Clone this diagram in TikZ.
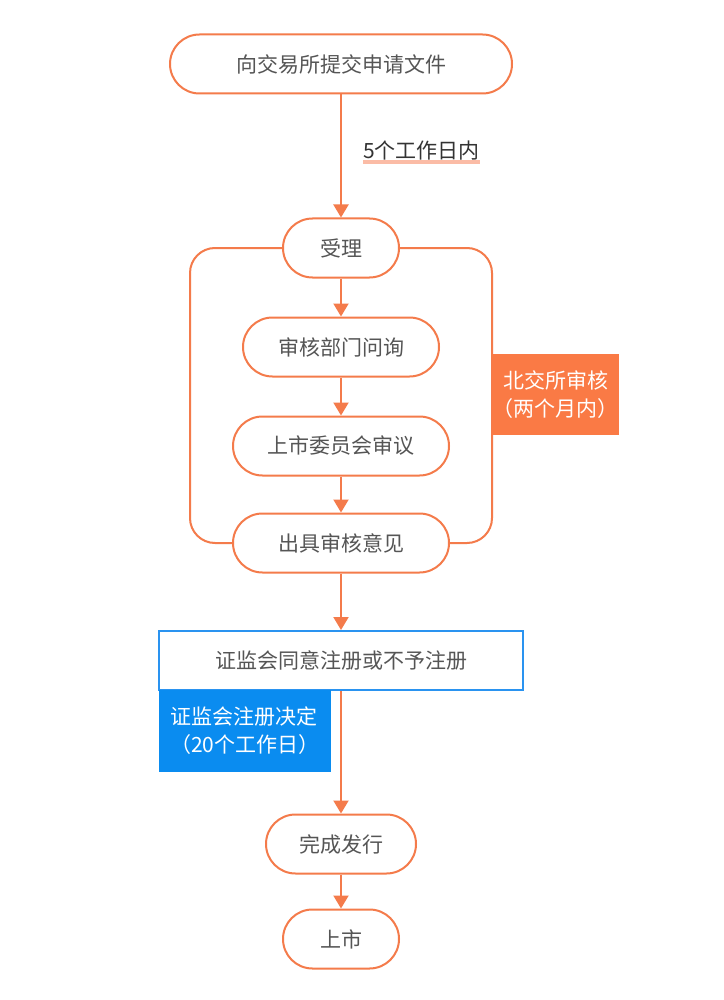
\documentclass[tikz,border=0pt]{standalone}
\usepackage{fontspec}
\setmainfont{Noto Sans CJK SC}
\usetikzlibrary{arrows.meta,positioning}
\definecolor{org}{HTML}{F47B4B}
\definecolor{orgfill}{HTML}{FA7A45}
\definecolor{uline}{HTML}{FBBCA6}
\definecolor{blu}{HTML}{2A93F0}
\definecolor{blufill}{HTML}{0A8CF0}
\definecolor{txt}{HTML}{555555}
\begin{document}
\begin{tikzpicture}[x=1pt,y=-1pt,
  pill/.style={draw=org,line width=2pt,rounded corners=29.5pt,minimum height=59pt,inner sep=0pt,text=txt,font=\fontsize{21}{25}\selectfont,fill=white},
  arr/.style={draw=org,line width=2pt,-{Triangle[width=15pt,length=13pt]}},
  brk/.style={draw=org,line width=2pt,rounded corners=25pt},
  lbl/.style={font=\fontsize{21}{28}\selectfont,text=white,inner sep=0pt}]
\useasboundingbox (0,0) rectangle (723,1000);
\fill[white] (0,0) rectangle (723,1000);
\node[pill,minimum width=342pt] (a) at (341,64) {向交易所提交申请文件};
\node[pill,minimum width=116pt] (b) at (341,248) {受理};
\node[pill,minimum width=196pt] (c) at (341,347) {审核部门问询};
\node[pill,minimum width=216pt] (d) at (341,446) {上市委员会审议};
\node[pill,minimum width=216pt] (e) at (341,543) {出具审核意见};
\node[draw=blu,line width=2pt,minimum width=364pt,minimum height=59pt,inner sep=0pt,text=txt,font=\fontsize{21}{25}\selectfont] (f) at (341,660.5) {证监会同意注册或不予注册};
\node[pill,minimum width=150pt] (g) at (341,844) {完成发行};
\node[pill,minimum width=116pt] (h) at (341,939) {上市};
% label
\node[anchor=west,inner sep=0pt,text=black!80,font=\fontsize{21}{25}\selectfont] (t5) at (363,151) {5个工作日内};
\draw[uline,line width=4pt] (t5.south west) ++(0,1) coordinate (u1) -- (t5.south east |- u1);
% arrows
\draw[arr] (a) -- (b);
\draw[arr] (b) -- (c);
\draw[arr] (c) -- (d);
\draw[arr] (d) -- (e);
\draw[arr] (e) -- (f);
\draw[arr] (f) -- (g);
\draw[arr] (g) -- (h);
% bracket
\coordinate (l1) at (190,248);
\coordinate (l2) at (190,543);
\coordinate (r1) at (492,248);
\coordinate (r2) at (492,543);
\draw[brk] (b.west) -- (l1) -- (l2) -- (e.west);
\draw[brk] (b.east) -- (r1) -- (r2) -- (e.east);
% orange label box
\node[lbl,align=center,fill=orgfill,minimum width=127pt,minimum height=81pt,anchor=north west] (o) at (492,354) {北交所审核\\（两个月内）};
% blue label box
\fill[blufill] (159,690) rectangle (331,772);
\node[lbl,align=left,anchor=west] (bl) at (170,731) {证监会注册决定\\（20个工作日）};
\end{tikzpicture}
\end{document}
